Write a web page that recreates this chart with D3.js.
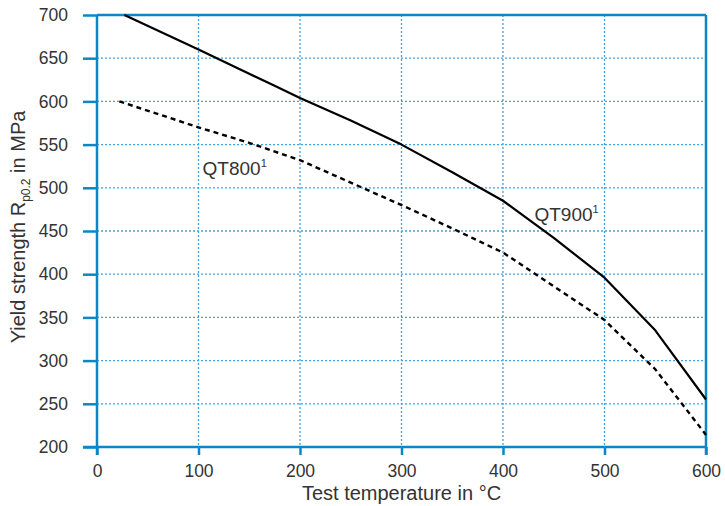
<!DOCTYPE html>
<html>
<head>
<meta charset="utf-8">
<script src="https://cdn.jsdelivr.net/npm/d3@7"></script>
<style>
  html, body { margin: 0; padding: 0; background: #fff; }
  svg { display: block; font-family: "Liberation Sans", Arial, Helvetica, sans-serif; }
</style>
</head>
<body>
<svg id="chart" width="725" height="506"></svg>
<script>
// Data
const xTicks = [0, 100, 200, 300, 400, 500, 600];
const yTicks = [200, 250, 300, 350, 400, 450, 500, 550, 600, 650, 700];
const qt900Temp = [27, 100, 175, 200, 250, 300, 350, 400, 450, 500, 550, 600];
const qt900Val  = [700, 660, 618, 604, 578, 550, 518, 485, 442, 396, 335, 255];
const qt800Temp = [22, 100, 150, 200, 250, 300, 350, 400, 450, 500, 550, 600];
const qt800Val  = [600, 570, 552, 532, 506, 480, 453, 425, 386, 347, 290, 214];
const seriesNames = ["QT800", "QT900"];

const blue = "#0a86c9";
const gridBlue = "#3fa3de";
const textCol = "#333333";

const svg = d3.select("#chart");
const L = 97, R = 706, T = 15, B = 447;
const x = d3.scaleLinear().domain([0, 600]).range([L, R]);
const y = d3.scaleLinear().domain([200, 700]).range([B, T]);

// gridlines
svg.append("g").selectAll("line").data(xTicks.filter(d => d > 0 && d < 600)).join("line")
  .attr("x1", d => x(d)).attr("x2", d => x(d)).attr("y1", T).attr("y2", B)
  .attr("stroke", gridBlue).attr("stroke-width", 1.3).attr("stroke-dasharray", "2,2");
svg.append("g").selectAll("line").data(yTicks.filter(d => d > 200 && d < 700)).join("line")
  .attr("y1", d => y(d)).attr("y2", d => y(d)).attr("x1", L).attr("x2", R)
  .attr("stroke", gridBlue).attr("stroke-width", 1.3).attr("stroke-dasharray", "2,2");

// frame top/right
svg.append("line").attr("x1", L).attr("x2", R).attr("y1", T).attr("y2", T)
  .attr("stroke", blue).attr("stroke-width", 2.5);
svg.append("line").attr("x1", R).attr("x2", R).attr("y1", T).attr("y2", B + 8)
  .attr("stroke", blue).attr("stroke-width", 2.5);

// axes
const yAxis = svg.append("g").attr("transform", `translate(${L},0)`)
  .call(d3.axisLeft(y).tickValues(yTicks).tickSize(14).tickPadding(15).tickSizeOuter(0));
const xAxis = svg.append("g").attr("transform", `translate(0,${B})`)
  .call(d3.axisBottom(x).tickValues(xTicks).tickSize(8).tickPadding(10).tickSizeOuter(0));
[yAxis, xAxis].forEach(g => {
  g.select(".domain").attr("stroke", blue).attr("stroke-width", 2.5);
  g.selectAll(".tick line").attr("stroke", blue).attr("stroke-width", 2.5);
  g.selectAll(".tick text").attr("fill", textCol).attr("font-size", 17.5)
    .attr("font-family", "Liberation Sans, Arial, sans-serif");
});
yAxis.select(".domain").attr("d", `M0,${T}V${B + 8}`);
xAxis.select(".domain").attr("d", `M${L - 14},0H${R}`);

// curves
const line = d3.line().x(d => x(d[0])).y(d => y(d[1]));
svg.append("path").datum(qt900Temp.map((t, i) => [t, qt900Val[i]]))
  .attr("d", line).attr("fill", "none").attr("stroke", "#000").attr("stroke-width", 2.2)
  .attr("stroke-linejoin", "round");
svg.append("path").datum(qt800Temp.map((t, i) => [t, qt800Val[i]]))
  .attr("d", line).attr("fill", "none").attr("stroke", "#000").attr("stroke-width", 2.4)
  .attr("stroke-dasharray", "5,4");

// series labels
function seriesLabel(name, xv, yv) {
  const t = svg.append("text").attr("x", x(xv)).attr("y", y(yv))
    .attr("fill", textCol).attr("font-size", 19);
  t.append("tspan").text(name);
  t.append("tspan").attr("font-size", 11).attr("dy", -8).text("1");
}
seriesLabel(seriesNames[0], 104, 515);
seriesLabel(seriesNames[1], 431, 462);

// axis titles
svg.append("text").attr("x", (L + R) / 2).attr("y", 500).attr("text-anchor", "middle")
  .attr("fill", textCol).attr("font-size", 20).text("Test temperature in °C");

const yt = svg.append("text").attr("transform", `translate(25,227) rotate(-90)`)
  .attr("text-anchor", "middle").attr("fill", textCol).attr("font-size", 20);
yt.append("tspan").text("Yield strength R");
yt.append("tspan").attr("font-size", 12).attr("dy", 5).text("p0.2");
yt.append("tspan").attr("dy", -5).text(" in MPa");
</script>
</body>
</html>
